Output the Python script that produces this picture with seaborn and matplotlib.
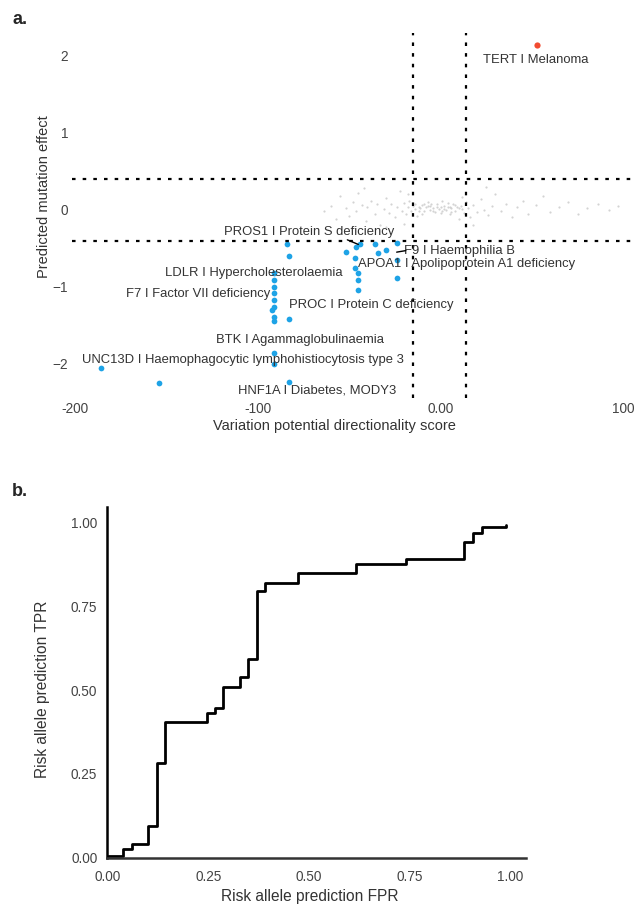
import matplotlib
matplotlib.use('Agg')
import matplotlib.pyplot as plt
import seaborn as sns
import pandas as pd

# panel a: background variants (grey cloud)
gray_x = [-64, -60, -57, -55, -52, -50, -48, -46, -45, -43, -41, -40, -38, -36, -35, -33, -31, -30,
          -28, -27, -25, -24, -22, -21, -20, -19, -18, -17, -16, -15, -14, -13, -12, -11, -10, -9,
          -8, -7, -6, -5, -4, -3, -2, -1, 0, 1, 2, 3, 4, 5, 6, 7, 8, 9, 10, 11, 12, 13, 14, 15, 16,
          18, 20, 22, 24, 26, 28, 30, 33, 36, 39, 42, 45, 48, 52, 56, 60, 65, 70, 75, 80, 86, 92,
          97, -12, -9, -6, -4, -2, 0, 2, 4, 6, 8, 10, -14, -10, -7, 1, 5, -20, -30, 18, -42, 25,
          -18, 12]
gray_y = [-0.02, 0.05, -0.12, 0.18, 0.02, -0.08, 0.10, -0.02, 0.22, 0.06, -0.15, 0.03, 0.12, -0.05,
          0.08, -0.20, 0.01, 0.15, -0.04, 0.07, -0.10, 0.04, 0.25, -0.01, 0.09, -0.06, 0.03, 0.12,
          -0.02, 0.05, 0.01, -0.08, 0.04, 0.02, 0.06, -0.01, 0.03, 0.05, 0.00, 0.07, 0.02, -0.03,
          0.04, 0.01, 0.03, -0.02, 0.05, 0.00, 0.04, -0.06, 0.02, 0.08, -0.01, 0.03, -0.12, 0.05,
          0.01, -0.04, 0.10, 0.02, -0.09, 0.06, -0.03, 0.14, 0.00, -0.07, 0.05, 0.20, -0.02, 0.08,
          -0.10, 0.03, 0.12, -0.05, 0.06, 0.18, -0.03, 0.04, 0.10, -0.06, 0.02, 0.08, 0.00, 0.05,
          -0.02, 0.07, 0.05, -0.01, 0.08, -0.04, 0.01, 0.09, -0.03, 0.06, 0.02, 0.07, -0.05, 0.10,
          0.12, 0.03, -0.18, -0.22, -0.20, 0.28, 0.30, 0.20, 0.16]

# disease risk alleles (blue)
risk_x = [-84, -83, -91, -91, -91, -91, -91, -91, -91, -83, -52, -46, -47, -47, -45, -45, -45,
          -44, -36, -34, -30, -24, -24, -24, -91, -91, -83, -186, -154, -91, -92]
risk_y = [-0.45, -0.60, -0.82, -0.91, -1.00, -1.17, -1.26, -1.39, -1.45, -1.42, -0.55, -0.48,
          -0.62, -0.75, -0.82, -0.91, -1.04, -0.45, -0.45, -0.56, -0.52, -0.43, -0.65, -0.89,
          -1.86, -2.00, -2.23, -2.05, -2.25, -1.08, -1.30]

# TERT
tert_x = [53]
tert_y = [2.14]

labels = ["TERT I Melanoma", "PROS1 I Protein S deficiency", "F9 I Haemophilia B",
          "APOA1 I Apolipoprotein A1 deficiency", "LDLR I Hypercholesterolaemia",
          "F7 I Factor VII deficiency", "PROC I Protein C deficiency", "BTK I Agammaglobulinaemia",
          "UNC13D I Haemophagocytic lymphohistiocytosis type 3", "HNF1A I Diabetes, MODY3"]
label_x = [23.5, -118.5, -20, -45, -151, -172, -83, -123, -196, -111]
label_y = [1.94, -0.29, -0.53, -0.71, -0.82, -1.09, -1.23, -1.69, -1.95, -2.34]

x_ticks = [-200, -100, 0, 100]
x_ticklabels = ["-200", "-100", "0.00", "100"]
y_ticks = [-2, -1, 0, 1, 2]
y_ticklabels = ["\u22122", "\u22121", "0", "1", "2"]

# panel b: ROC steps
fpr = [0.0, 0.037, 0.060, 0.100, 0.122, 0.142, 0.246, 0.266, 0.286, 0.328, 0.348, 0.371, 0.391,
       0.473, 0.617, 0.741, 0.886, 0.908, 0.930, 0.990]
tpr = [0.005, 0.024, 0.039, 0.095, 0.283, 0.405, 0.432, 0.446, 0.510, 0.539, 0.592, 0.795, 0.821,
       0.851, 0.878, 0.893, 0.943, 0.970, 0.988, 0.994]

sns.set_style('white')
plt.rcParams['font.family'] = ['Liberation Sans', 'DejaVu Sans']
txt = '#333333'

fig = plt.figure(figsize=(6.39, 9.06), dpi=100)
ax1 = fig.add_axes([0.113, 0.561, 0.884, 0.403])
ax2 = fig.add_axes([0.1675, 0.053, 0.6555, 0.3876])

# --- panel a ---
sns.scatterplot(x=gray_x, y=gray_y, ax=ax1, color='#c8c8c8', s=2.5, linewidth=0, alpha=0.8)
sns.scatterplot(x=risk_x, y=risk_y, ax=ax1, color='#1ea3e6', s=17, linewidth=0)
sns.scatterplot(x=tert_x, y=tert_y, ax=ax1, color='#f24b30', s=20, linewidth=0)

for v in (-0.4, 0.4):
    ax1.axhline(v, color='black', ls=(0, (1.6, 3.2)), lw=1.6)
for v in (-15, 14):
    ax1.axvline(v, color='black', ls=(0, (1.6, 3.2)), lw=1.6)

for t, lx, ly in zip(labels, label_x, label_y):
    ax1.text(lx, ly, t, fontsize=9.4, color=txt, va='center', ha='left')

ax1.annotate('', xy=(-45, -0.45), xytext=(-51, -0.39),
             arrowprops=dict(arrowstyle='-', color='black', lw=1, shrinkA=0, shrinkB=0))
ax1.annotate('', xy=(-24, -0.55), xytext=(-19, -0.53),
             arrowprops=dict(arrowstyle='-', color='black', lw=1, shrinkA=0, shrinkB=0))

ax1.set_xlim(-201.6, 107.6)
ax1.set_ylim(-2.44, 2.3)
ax1.set_xticks(x_ticks)
ax1.set_xticklabels(x_ticklabels)
ax1.set_yticks(y_ticks)
ax1.set_yticklabels(y_ticklabels)
ax1.tick_params(length=0, labelsize=9.8, labelcolor='#444444', pad=3)
for s in ax1.spines.values():
    s.set_visible(False)
ax1.set_xlabel('Variation potential directionality score', fontsize=10.5, color=txt)
ax1.set_ylabel('Predicted mutation effect', fontsize=10.5, color=txt)
ax1.xaxis.set_label_coords(0.464, -0.058)
ax1.yaxis.set_label_coords(-0.037, 0.55)

# --- panel b ---
roc = pd.DataFrame({'FPR': fpr, 'TPR': tpr})
sns.lineplot(data=roc, x='FPR', y='TPR', ax=ax2, color='black', lw=2, drawstyle='steps-post')
ax2.set_xlim(-0.002, 1.04)
ax2.set_ylim(-0.002, 1.048)
ax2.set_xticks([0, 0.25, 0.5, 0.75, 1.0])
ax2.set_xticklabels(['0.00', '0.25', '0.50', '0.75', '1.00'])
ax2.set_yticks([0, 0.25, 0.5, 0.75, 1.0])
ax2.set_yticklabels(['0.00', '0.25', '0.50', '0.75', '1.00'])
ax2.tick_params(length=0, labelsize=9.8, labelcolor='#444444')
ax2.tick_params(axis='x', pad=9)
ax2.tick_params(axis='y', pad=7)
sns.despine(ax=ax2)
ax2.spines['left'].set_linewidth(1.8)
ax2.spines['bottom'].set_linewidth(1.8)
ax2.spines['left'].set_color('black')
ax2.spines['bottom'].set_color('#333333')
ax2.set_xlabel('Risk allele prediction FPR', fontsize=11.2, color=txt)
ax2.set_ylabel('Risk allele prediction TPR', fontsize=11.2, color=txt)
ax2.xaxis.set_label_coords(0.485, -0.087)
ax2.yaxis.set_label_coords(-0.136, 0.479)

fig.text(0.019, 0.978, 'a.', fontsize=13, fontweight='bold', va='center')
fig.text(0.019, 0.457, 'b.', fontsize=13, fontweight='bold', va='center')

fig.savefig('out.png', dpi=100)
